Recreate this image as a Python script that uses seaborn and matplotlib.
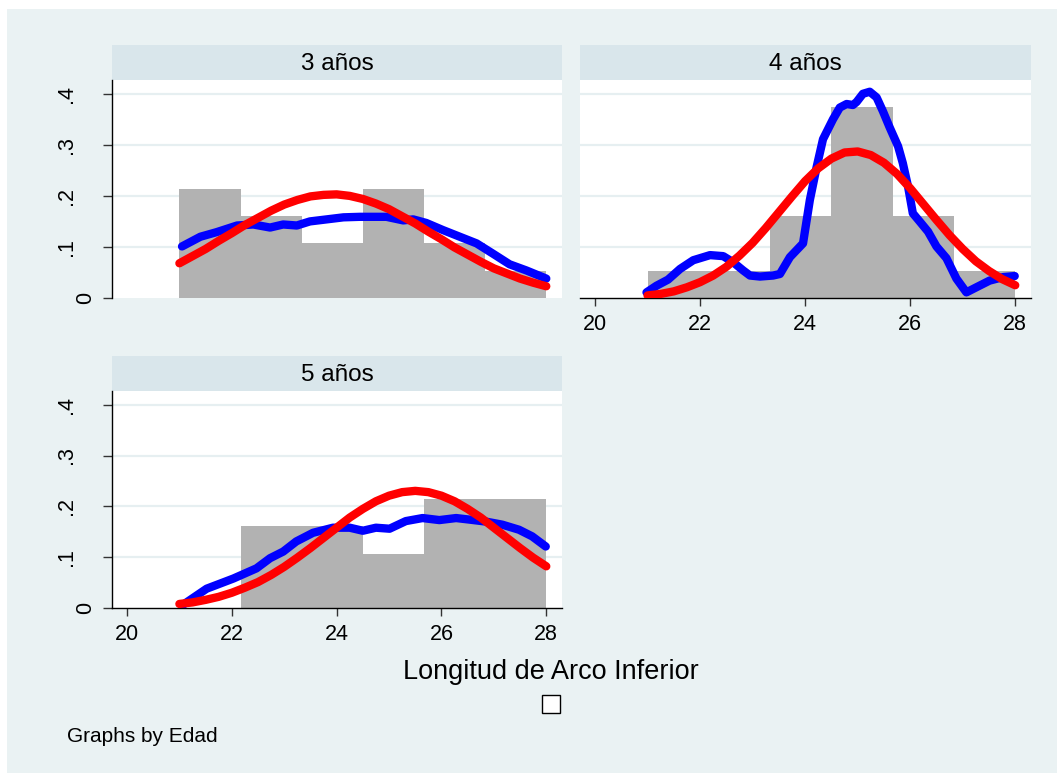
import numpy as np
import pandas as pd
import matplotlib
matplotlib.use("Agg")
import matplotlib.pyplot as plt
import matplotlib.transforms as mtransforms
from matplotlib.patches import Rectangle
import seaborn as sns

# ---------------- data ----------------
AGES = ["3 años", "4 años", "5 años"]
BIN_LO, BIN_HI, N_BINS = 21.0, 28.0, 6

# observations per histogram bin (6 equal bins between 21 and 28)
counts_3 = [4, 3, 2, 4, 2, 1]
counts_4 = [1, 1, 3, 7, 3, 1]
counts_5 = [0, 3, 3, 2, 4, 4]

# kernel density estimate (blue)
kde_x_3 = [21.05, 21.40, 21.71, 22.10, 22.41, 22.73, 22.98, 23.24, 23.49, 23.81,
           24.13, 24.44, 24.70, 24.95, 25.27, 25.46, 25.71, 26.03, 26.35, 26.67,
           26.98, 27.30, 27.62, 28.00]
kde_y_3 = [0.101, 0.120, 0.129, 0.142, 0.144, 0.138, 0.144, 0.142, 0.150, 0.154,
           0.158, 0.159, 0.159, 0.159, 0.152, 0.154, 0.147, 0.133, 0.120, 0.107,
           0.087, 0.066, 0.054, 0.038]

kde_x_4 = [20.98, 21.17, 21.39, 21.62, 21.87, 22.19, 22.44, 22.63, 22.82, 22.95,
           23.14, 23.39, 23.52, 23.71, 23.96, 24.09, 24.22, 24.34, 24.53, 24.66,
           24.79, 24.91, 24.98, 25.10, 25.23, 25.36, 25.48, 25.61, 25.77, 25.86,
           25.96, 26.05, 26.18, 26.34, 26.50, 26.69, 26.88, 27.07, 27.26, 27.51,
           27.77, 27.99]
kde_y_4 = [0.011, 0.024, 0.036, 0.057, 0.074, 0.084, 0.082, 0.070, 0.054, 0.044,
           0.042, 0.044, 0.047, 0.080, 0.107, 0.192, 0.257, 0.311, 0.350, 0.373,
           0.380, 0.378, 0.384, 0.400, 0.404, 0.393, 0.366, 0.334, 0.297, 0.264,
           0.218, 0.166, 0.150, 0.130, 0.101, 0.078, 0.038, 0.011, 0.021, 0.034,
           0.041, 0.043]

kde_x_5 = [21.05, 21.52, 22.03, 22.47, 22.73, 22.98, 23.23, 23.55, 23.93, 24.25,
           24.50, 24.75, 25.01, 25.32, 25.64, 25.96, 26.28, 26.53, 26.85, 27.16,
           27.48, 27.73, 27.99]
kde_y_5 = [0.005, 0.038, 0.058, 0.078, 0.098, 0.111, 0.131, 0.148, 0.158, 0.158,
           0.152, 0.158, 0.156, 0.171, 0.177, 0.173, 0.177, 0.174, 0.170, 0.164,
           0.154, 0.141, 0.121]

# fitted normal density (red), sampled every 0.25
norm_x = [21.0, 21.25, 21.5, 21.75, 22.0, 22.25, 22.5, 22.75, 23.0, 23.25,
          23.5, 23.75, 24.0, 24.25, 24.5, 24.75, 25.0, 25.25, 25.5, 25.75,
          26.0, 26.25, 26.5, 26.75, 27.0, 27.25, 27.5, 27.75, 28.0]
norm_y_3 = [0.068, 0.082, 0.096, 0.112, 0.127, 0.143, 0.157, 0.171, 0.183, 0.192,
            0.199, 0.202, 0.203, 0.200, 0.194, 0.185, 0.174, 0.160, 0.146, 0.130,
            0.115, 0.099, 0.085, 0.071, 0.058, 0.048, 0.038, 0.030, 0.023]
norm_y_4 = [0.005, 0.008, 0.013, 0.021, 0.031, 0.044, 0.061, 0.083, 0.108, 0.137,
            0.168, 0.199, 0.229, 0.254, 0.273, 0.285, 0.287, 0.280, 0.265, 0.243,
            0.215, 0.184, 0.153, 0.123, 0.096, 0.072, 0.053, 0.037, 0.025]
norm_y_5 = [0.008, 0.011, 0.016, 0.022, 0.030, 0.040, 0.051, 0.065, 0.081, 0.099,
            0.118, 0.138, 0.158, 0.178, 0.195, 0.210, 0.221, 0.228, 0.2305, 0.228,
            0.221, 0.210, 0.195, 0.178, 0.158, 0.138, 0.118, 0.099, 0.082]

X_TICKS = [20, 22, 24, 26, 28]
Y_TICKS = [0, 0.1, 0.2, 0.3, 0.4]
Y_TICK_LABELS = ["0", ".1", ".2", ".3", ".4"]
X_TITLE = "Longitud de Arco Inferior"
NOTE = "Graphs by Edad"

# ---------------- style ----------------
BG = "#EAF2F3"
STRIP = "#D9E6EB"
GRID = "#E6EFF1"
BAR = "#B2B2B2"
FONT = ["Liberation Sans", "DejaVu Sans"]

sns.set_style("white")
plt.rcParams["font.family"] = FONT
plt.rcParams["text.color"] = "black"
plt.rcParams["xtick.color"] = "black"
plt.rcParams["ytick.color"] = "black"

W, H, DPI = 1057, 773, 100
fig = plt.figure(figsize=(W / DPI, H / DPI), dpi=DPI, facecolor="white")
fig.patches.append(Rectangle((7 / W, 0), 1 - 7 / W, 1 - 9 / H,
                             transform=fig.transFigure, facecolor=BG,
                             edgecolor="none", zorder=-10))


def box(x0, y0, x1, y1):
    return [x0 / W, 1 - y1 / H, (x1 - x0) / W, (y1 - y0) / H]


edges = list(np.linspace(BIN_LO, BIN_HI, N_BINS + 1))
centers = [(a + b) / 2 for a, b in zip(edges[:-1], edges[1:])]

panels = [
    dict(title=AGES[0], counts=counts_3, kx=kde_x_3, ky=kde_y_3, ny=norm_y_3,
         rect=(112, 80, 562, 298), yaxis=True, xaxis=False),
    dict(title=AGES[1], counts=counts_4, kx=kde_x_4, ky=kde_y_4, ny=norm_y_4,
         rect=(580, 80, 1031, 298), yaxis=False, xaxis=True),
    dict(title=AGES[2], counts=counts_5, kx=kde_x_5, ky=kde_y_5, ny=norm_y_5,
         rect=(112, 391, 562, 608), yaxis=True, xaxis=True),
]

LW = 6.0

for p in panels:
    x0, y0, x1, y1 = p["rect"]
    # strip header
    sax = fig.add_axes(box(x0, y0 - 35, x1, y0))
    sax.set_facecolor(STRIP)
    sax.set_xticks([]); sax.set_yticks([])
    for s in sax.spines.values():
        s.set_visible(False)
    sax.text(0.5, 0.47, p["title"], ha="center", va="center", fontsize=17.5,
             transform=sax.transAxes)

    ax = fig.add_axes(box(x0, y0, x1, y1))
    ax.set_facecolor("white")
    for yt in Y_TICKS[1:]:
        ax.axhline(yt, color=GRID, lw=1.6, zorder=0)

    hist_df = pd.DataFrame({"x": centers, "w": p["counts"]})
    sns.histplot(data=hist_df, x="x", weights="w", bins=edges, stat="density",
                 color=BAR, alpha=1, edgecolor="none", linewidth=0, ax=ax,
                 zorder=1)
    sns.lineplot(x=p["kx"], y=p["ky"], color="#0000FF", lw=LW, ax=ax,
                 zorder=3, sort=False)
    sns.lineplot(x=norm_x, y=p["ny"], color="#FF0000", lw=LW, ax=ax, zorder=4)

    ax.set_xlim(19.714, 28.3)
    ax.set_ylim(0, 0.427)
    ax.set_xlabel(""); ax.set_ylabel("")
    for s in ["top", "right"]:
        ax.spines[s].set_visible(False)

    if p["yaxis"]:
        ax.spines["left"].set_visible(True)
        ax.spines["left"].set_color("black")
        ax.spines["left"].set_linewidth(1.0)
        ax.set_yticks(Y_TICKS, labels=[""] * len(Y_TICKS))
        ax.tick_params(axis="y", direction="out", length=6.5, width=1.0,
                       color="#333333", left=True)
        trans = mtransforms.blended_transform_factory(ax.transAxes, ax.transData)
        for yt, lab in zip(Y_TICKS, Y_TICK_LABELS):
            shift = -26.5 if lab == "0" else -45.5
            t = mtransforms.offset_copy(trans, fig=fig, x=shift, y=0, units="dots")
            ax.text(0, yt, lab, rotation=90, ha="center", va="center",
                    fontsize=15.5, color="black", transform=t)
    else:
        ax.spines["left"].set_visible(False)
        ax.set_yticks([])

    if p["xaxis"]:
        ax.spines["bottom"].set_visible(True)
        ax.spines["bottom"].set_color("black")
        ax.spines["bottom"].set_linewidth(1.0)
        ax.set_xticks(X_TICKS)
        ax.set_xticklabels([str(v) for v in X_TICKS])
        ax.tick_params(axis="x", direction="out", length=5.5, width=1.0,
                       color="#333333", bottom=True, labelsize=15.5, pad=6,
                       labelcolor="black")
    else:
        ax.spines["bottom"].set_visible(False)
        ax.set_xticks([])

fig.text(551 / W, 1 - 672 / H, X_TITLE, ha="center", va="center", fontsize=19.5)
fig.patches.append(Rectangle((542 / W, 1 - 712.5 / H), 18 / W, 18 / H,
                             transform=fig.transFigure, facecolor="white",
                             edgecolor="black", lw=1.0, zorder=5))
fig.text(67 / W, 1 - 737 / H, NOTE, ha="left", va="center", fontsize=15)

fig.savefig("out.png", dpi=DPI, facecolor="white")
